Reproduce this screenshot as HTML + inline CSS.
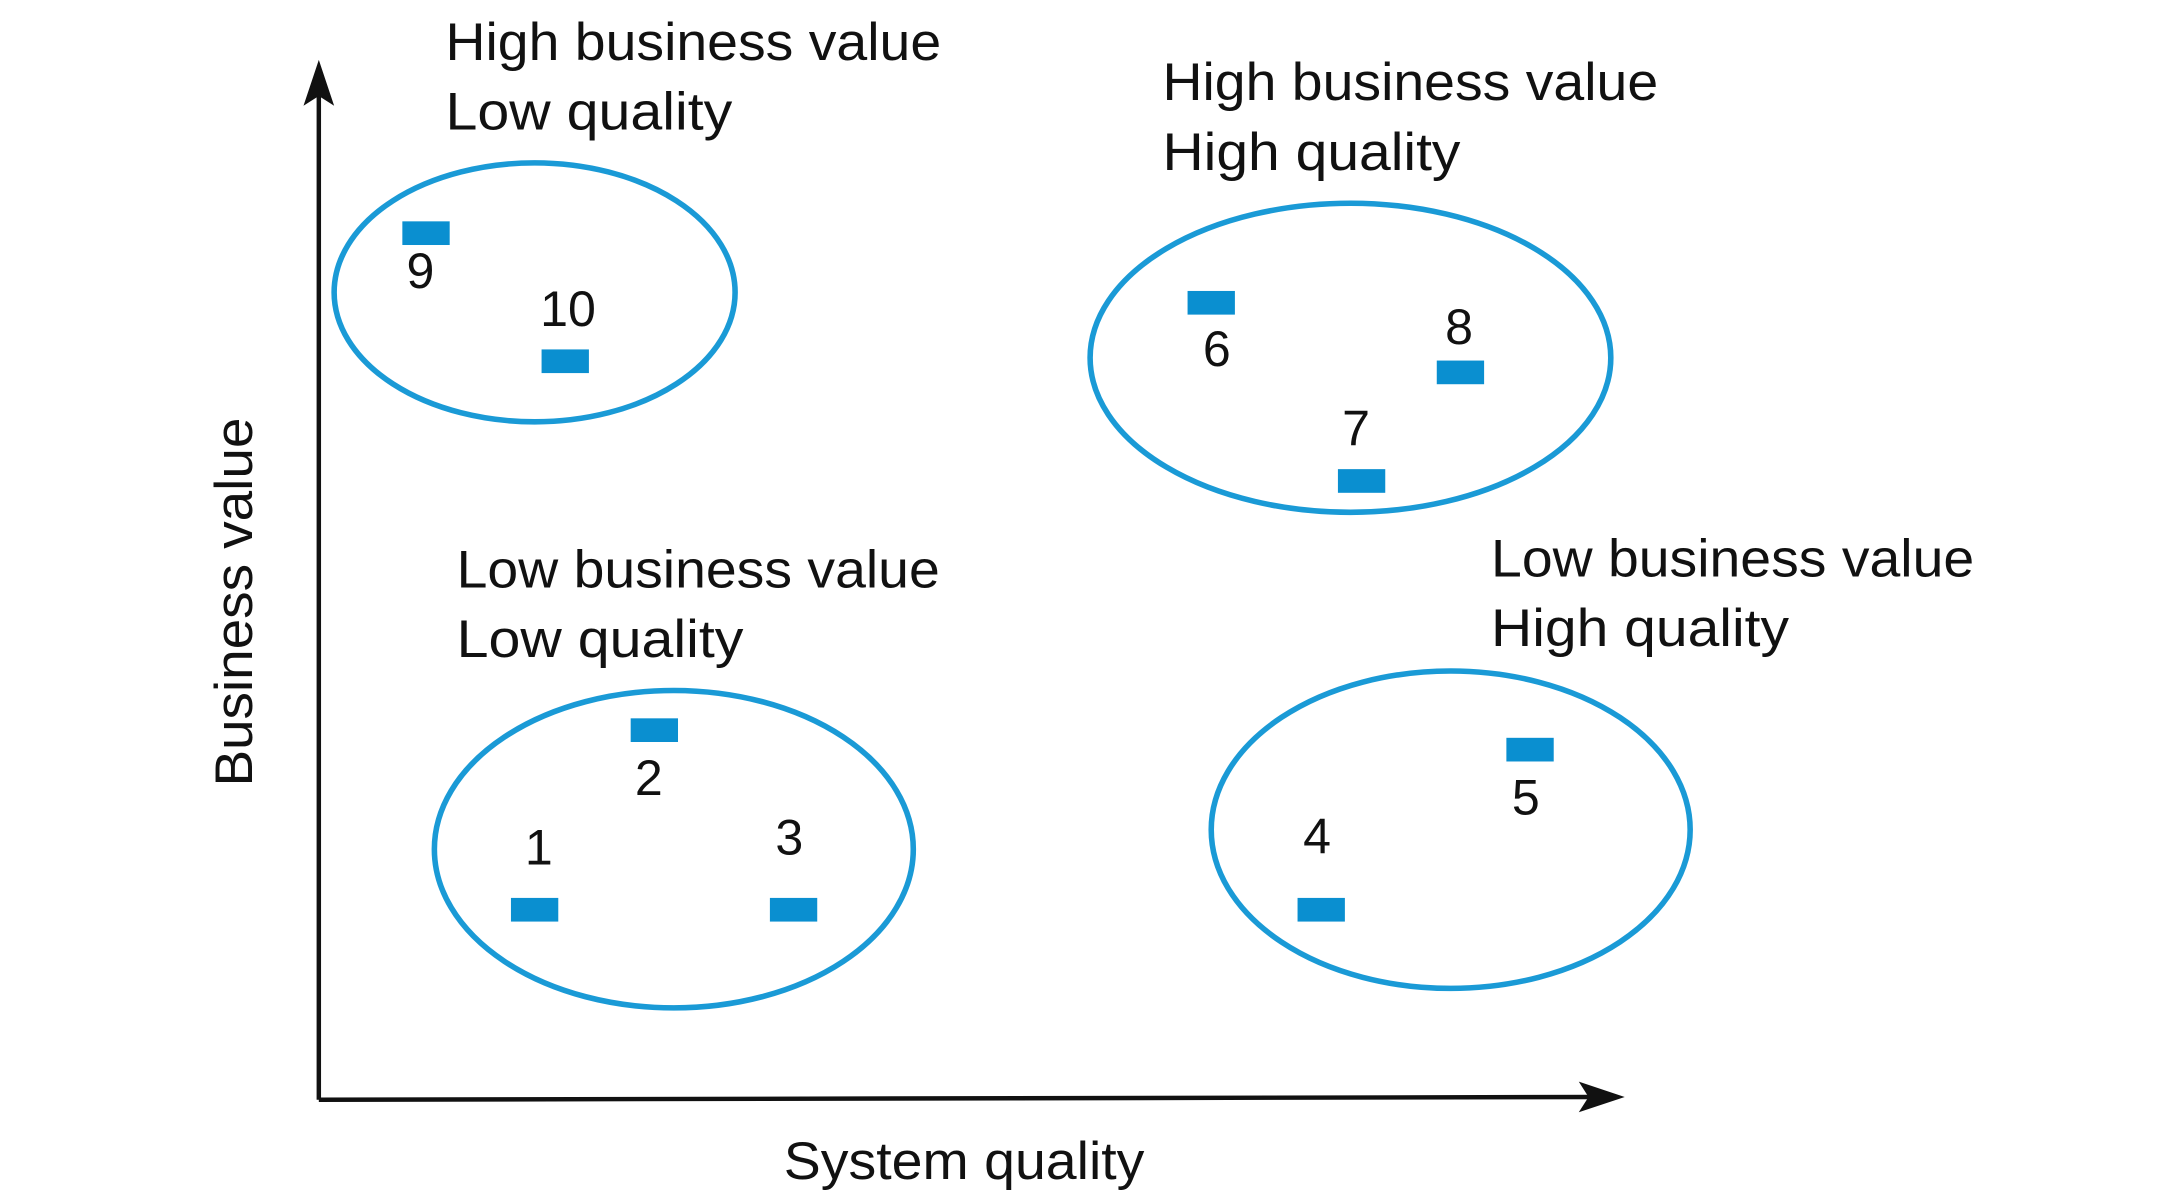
<!DOCTYPE html>
<html><head><meta charset="utf-8"><style>html,body{margin:0;padding:0;background:#fff;}svg{display:block;}</style></head>
<body>
<svg width="2183" height="1200" viewBox="0 0 1568 862" preserveAspectRatio="none" xmlns="http://www.w3.org/2000/svg">
<g font-family="Liberation Sans, sans-serif" fill="#111">
<!-- axes -->
<line x1="229" y1="790" x2="229" y2="62" stroke="#111" stroke-width="3.2"/>
<polygon points="229,43 218,76 229,69 240,76" fill="#111"/>
<line x1="229" y1="790" x2="1148" y2="788" stroke="#111" stroke-width="3.2"/>
<polygon points="1167,788 1134,777 1141,788 1134,799" fill="#111"/>
<!-- ellipses -->
<g fill="none" stroke="#1a9ad6" stroke-width="4">
<ellipse cx="384" cy="210" rx="144" ry="93"/>
<ellipse cx="970" cy="257" rx="187" ry="111"/>
<ellipse cx="484" cy="610" rx="172" ry="114"/>
<ellipse cx="1042" cy="596" rx="172" ry="114"/>
</g>
<!-- rects -->
<g fill="#0a8fd0">
<rect x="289" y="159" width="34" height="17"/>
<rect x="389" y="251" width="34" height="17"/>
<rect x="853" y="209" width="34" height="17"/>
<rect x="1032" y="259" width="34" height="17"/>
<rect x="961" y="337" width="34" height="17"/>
<rect x="453" y="516" width="34" height="17"/>
<rect x="367" y="645" width="34" height="17"/>
<rect x="553" y="645" width="34" height="17"/>
<rect x="1082" y="530" width="34" height="17"/>
<rect x="932" y="645" width="34" height="17"/>
</g>
<!-- numbers -->
<g font-size="36" text-anchor="middle">
<text x="302" y="207">9</text>
<text x="408" y="234">10</text>
<text x="874" y="263">6</text>
<text x="1048" y="247">8</text>
<text x="974" y="320">7</text>
<text x="466" y="571">2</text>
<text x="387" y="621">1</text>
<text x="567" y="614">3</text>
<text x="1096" y="585">5</text>
<text x="946" y="613">4</text>
</g>
<!-- labels -->
<g font-size="38">
<text x="320" y="43" textLength="356" lengthAdjust="spacingAndGlyphs">High business value</text>
<text x="320" y="93" textLength="206" lengthAdjust="spacingAndGlyphs">Low quality</text>
<text x="835" y="72" textLength="356" lengthAdjust="spacingAndGlyphs">High business value</text>
<text x="835" y="122" textLength="214" lengthAdjust="spacingAndGlyphs">High quality</text>
<text x="328" y="422" textLength="347" lengthAdjust="spacingAndGlyphs">Low business value</text>
<text x="328" y="472" textLength="206" lengthAdjust="spacingAndGlyphs">Low quality</text>
<text x="1071" y="414" textLength="347" lengthAdjust="spacingAndGlyphs">Low business value</text>
<text x="1071" y="464" textLength="214" lengthAdjust="spacingAndGlyphs">High quality</text>
<text x="563" y="847" textLength="259" lengthAdjust="spacingAndGlyphs">System quality</text>
<text transform="translate(181,565) rotate(-90)" x="0" y="0" textLength="265" lengthAdjust="spacingAndGlyphs">Business value</text>
</g>
</g>
</svg>
</body></html>
